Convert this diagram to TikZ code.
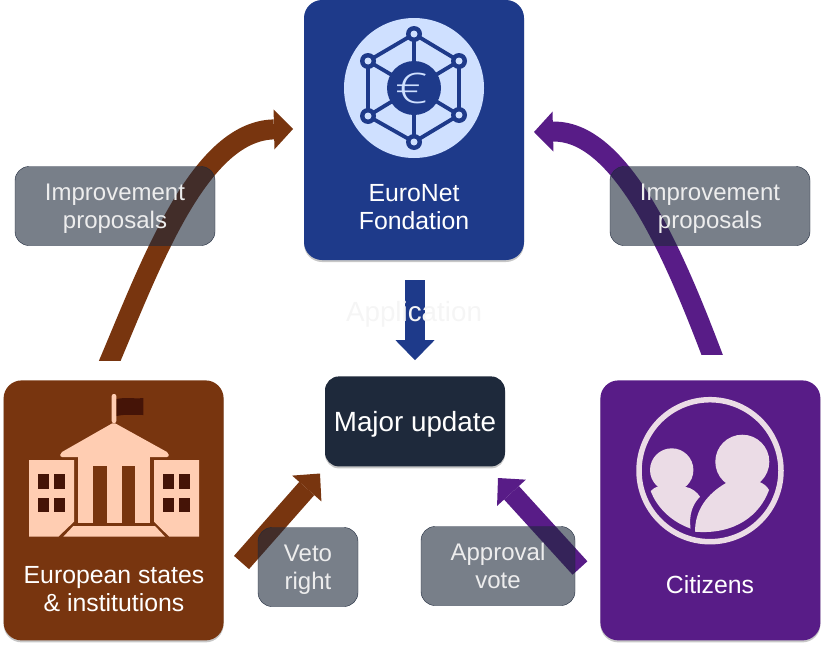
\documentclass[tikz,border=0pt]{standalone}
\usepackage{fontspec}
\setmainfont{Liberation Sans}
\newfontfamily\eurofont[UprightFont=* Light]{Open Sans}
\usepackage{xcolor}
\usetikzlibrary{positioning, shadows, arrows.meta}
\definecolor{netblue}{HTML}{1E3A8A}
\definecolor{netlight}{HTML}{CFE0FF}
\definecolor{statebrown}{HTML}{78350F}
\definecolor{statelight}{HTML}{FFCDB2}
\definecolor{statedark}{HTML}{451407}
\definecolor{citizenpurple}{HTML}{581C87}
\definecolor{citizenlight}{HTML}{EBDCE6}
\definecolor{slatedark}{HTML}{1E293B}

\begin{document}
\begin{tikzpicture}[
		x=1pt, y=-1pt,
		% Styles
		softshadow/.style={drop shadow={shadow xshift=0pt, shadow yshift=-2pt, opacity=0.22, fill=black}},
		mainbox/.style={rectangle, rounded corners=18pt, minimum width=220pt, minimum height=260pt, softshadow},
		updatebox/.style={rectangle, rounded corners=14pt, fill=slatedark, text=white, minimum width=180pt, minimum height=90pt, text depth=0pt, font=\fontsize{27.8}{32}\selectfont, softshadow},
		notebox/.style={rectangle, rounded corners=14pt, draw=slatedark, fill=slatedark, fill opacity=0.6, text opacity=1, text=white!93!black, minimum height=79pt, text depth=0pt, align=center, font=\fontsize{24}{28}\selectfont},
		boxtext/.style={text=white, align=center, font=\fontsize{24.8}{28}\selectfont},
		blockarrow/.style={line width=20pt, -{Triangle[length=20pt, width=39pt, line width=0pt]}},
		curvearrow/.style={line width=20pt, -{Triangle[length=19pt, width=40pt, line width=0pt]}}
	]
	\useasboundingbox (0,0) rectangle (824,648);

	% --- Main boxes ---
	\node[mainbox, fill=netblue] (euronet) at (414,130) {};
	\node[updatebox] (update) [below=116pt of euronet, xshift=1pt] {Major update};
	\node[mainbox, fill=statebrown] (european) [below left=120pt and 80pt of euronet] {};
	\node[mainbox, fill=citizenpurple] (citizens) [below right=120pt and 76pt of euronet] {};

	\node[boxtext] (euronet_label) at (414,207) {EuroNet\\Fondation};
	\node[boxtext] (european_label) at (114,589) {European states\\\& institutions};
	\node[boxtext] (citizens_label) at (710,585) {Citizens};

	% --- EuroNet icon ---
	\fill[netlight] (414,88) circle[radius=70];
	\foreach \hubx/\huby/\nextx/\nexty in {414/34/459/61, 459/61/459/115, 459/115/414/142, 414/142/368/116, 368/116/368/61, 368/61/414/34} {
		\draw[netblue, line width=3.8pt] (414,88) -- (\hubx,\huby) -- (\nextx,\nexty);
	}
	\foreach \hubx/\huby in {414/34, 459/61, 459/115, 414/142, 368/116, 368/61} {
		\fill[netblue] (\hubx,\huby) circle[radius=8];
		\fill[netlight] (\hubx,\huby) circle[radius=3.5];
	}
	\fill[netblue] (414,88) circle[radius=27];
	\node[text=netlight, xscale=1.35, transform shape, font=\eurofont\fontsize{42}{42}\selectfont] (euro_sign) at (411.5,88.5) {€};

	% --- Government icon ---
	\fill[statelight, rounded corners=2pt] (111.7,423) -- (111.7,394) -- (116.3,394) -- (116.3,423) -- cycle;
	\fill[statedark] (116.7,399) .. controls (125,397) and (135,399) .. (143.3,398) -- (143.3,415) .. controls (135,415) and (125,414) .. (116.7,416) -- cycle;
	\fill[statelight, rounded corners=2pt] (113.7,422.5) -- (168.8,453) -- (168.8,457) -- (60.2,457) -- (60.2,453) -- cycle;
	\fill[statelight] (78.3,456) rectangle (92.7,522.7);
	\fill[statelight] (106.7,456) rectangle (121.7,522.7);
	\fill[statelight] (135.3,456) rectangle (150,522.7);
	\fill[statelight] (78.3,456) rectangle (150,465.7);
	\fill[statelight] (29,460) -- (74,460) -- (74,521.7) -- (58.3,536.7) -- (29,536.7) -- cycle;
	\fill[statelight] (199,460) -- (154,460) -- (154,521.7) -- (169.3,536.7) -- (199,536.7) -- cycle;
	\fill[statelight] (73.3,526) -- (155,526) -- (165,536.7) -- (63.3,536.7) -- cycle;
	\foreach \winx in {38.3, 54.3, 163.3, 179.3} {
		\foreach \winy in {474, 497.7} {
			\fill[statedark] (\winx,\winy) rectangle (\winx+10.3,\winy+14.5);
		}
	}

	% --- Citizens icon ---
	\draw[citizenlight, line width=5.5pt] (710,470.7) circle[radius=71];
	\fill[citizenlight] (671.7,470) circle[radius=21.7];
	\fill[citizenlight] (742.3,461.7) circle[radius=27];
	\fill[citizenlight] (650.7,491) .. controls (654,488) and (656,487) .. (659,486) -- (685,486.7) .. controls (692,488) and (697,492) .. (700,496.7) .. controls (692,505) and (689,515) .. (690.5,528.5) .. controls (672,522) and (657,508) .. cycle;
	\fill[citizenlight] (695,531.7) .. controls (695,510) and (707,494) .. (726,483) -- (759,481.7) .. controls (764,484) and (767,486) .. (769,490) .. controls (760,515) and (735,535) .. cycle;

	% --- ARROWS ---
	\draw[blockarrow, netblue, shorten <=20pt, shorten >=16pt] (euronet.south -| update.north) -- (update.north);
	\node[text=black!4, text depth=0pt, font=\fontsize{27.8}{32}\selectfont] (application) at (414,311) {Application};

	\coordinate (state_tail) at (105,372);
	\coordinate (state_tip) at (293,129);
	\begin{scope}
		\clip (0,0) rectangle (824,360);
		\draw[curvearrow, statebrown] (state_tail) .. controls (148,272) and (197,131) .. (state_tip);
	\end{scope}

	\coordinate (people_tail) at (716,365);
	\coordinate (people_tip) at (534,132);
	\begin{scope}
		\clip (0,0) rectangle (824,354);
		\draw[curvearrow, citizenpurple] (people_tail) .. controls (680,270) and (625,130) .. (people_tip);
	\end{scope}

	\coordinate (veto_tail) at (241.5,562.5);
	\coordinate (veto_tip) at (320,473.5);
	\draw[blockarrow, statebrown] (veto_tail) -- (veto_tip);

	\coordinate (approval_tail) at (580,568);
	\coordinate (approval_tip) at (498,478);
	\draw[blockarrow, citizenpurple] (approval_tail) -- (approval_tip);

	% --- Notes on top of the arrows ---
	\node[notebox, minimum width=200pt] (proposals_state) at (115,206) {Improvement\\proposals};
	\node[notebox, minimum width=200pt] (proposals_people) at (710,206) {Improvement\\proposals};
	\node[notebox, minimum width=100pt] (veto) at (308,567) {Veto\\right};
	\node[notebox, minimum width=154pt] (approval) at (498,566) {Approval\\vote};

\end{tikzpicture}
\end{document}
